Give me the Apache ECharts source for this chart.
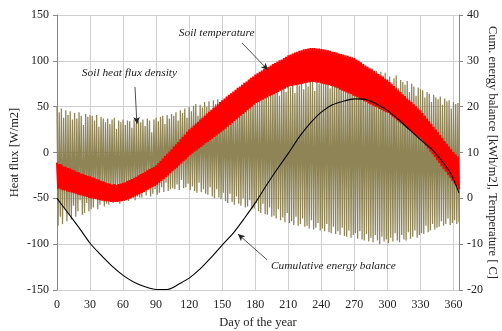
<!DOCTYPE html>
<html><head><meta charset="utf-8">
<script src="https://cdn.jsdelivr.net/npm/echarts@6/dist/echarts.min.js"></script>
<style>html,body{margin:0;padding:0;background:#fff}#c{width:502px;height:331px}</style>
</head><body><div id="c"></div>
<script>
// Soil heat flux density [W/m2]: daily highs (days 0,2,4,...,364) and lows (days 1,3,...,365)
const fluxHigh = [50,44,48,38,46,41,45,36, 43,37,44,40,30,42,39,41, 40,35,41,28,39,37,33, 37,31,36,38,26,35,33,36,
 30,35,34,27,36,32,35, 33,36,29,37,35,22,36,38, 34,39,40,31,41,37,42, 40,44,35,46,43,48,38,50,
 45,51,53,40,52,49,55, 50,56,44,57,53,58,47,57, 55,60,49,61,57,52,62, 58,63,65,54,66,60,67,64,
 69,57,70,66,72,61,71, 68,73,74,62,72,75,66,74, 71,77,65,76,73,78,69, 77,72,79,80,67,78,75,80,
 76,82,83,70,84,79,85, 81,86,74,87,84,88,78,87, 85,89,90,77,88,91,84, 92,86,89,75,88,84,87,80,
 83,76,81,84,70,79,77, 74,78,66,75,72,62,71,69, 68,60,66,64,55,63,60, 58,61,52,59,56,57,48,55,53,54];
const fluxLow = [-80,-70,-78,-62,-75,-68,-73,-58, -70,-64,-52,-68,-66,-55,-64,-62, -60,-50,-62,-57,-45,-59,-56,
 -57,-48,-55,-52,-42,-56,-50,-53, -46,-53,-50,-40,-52,-48,-49, -49,-43,-47,-36,-48,-45,-40,-46,
 -44,-38,-43,-33,-42,-40,-39, -40,-35,-41,-30,-39,-38,-34,-41, -37,-42,-44,-33,-43,-40,-45,
 -46,-38,-48,-50,-40,-49,-51,-44, -53,-55,-45,-54,-57,-48,-56, -58,-50,-60,-59,-52,-62,-61,-55,
 -64,-66,-56,-67,-68,-60,-70, -69,-72,-62,-74,-71,-76,-66,-77, -75,-79,-70,-80,-78,-72,-81,
 -80,-83,-74,-84,-82,-77,-85,-83, -86,-78,-87,-88,-81,-89,-86, -90,-82,-91,-92,-85,-93,-90,-88,
 -94,-86,-95,-96,-89,-97,-93, -98,-90,-96,-100,-92,-97,-95,-99, -93,-97,-88,-96,-98,-90,-95,
 -96,-87,-94,-92,-85,-93,-90,-88, -89,-80,-87,-85,-78,-84,-82, -81,-75,-80,-78,-72,-79,-77,-74,-78,-76];
// Soil temperature [C]: daily highs (days 0,2,...,364) and lows (days 1,3,...,365)
const tempHigh = [7.8,7.5,7.4,7.0,6.9,6.6,6.5,6.2,6.1,5.8,5.7,5.4,5.3,5.1,4.9,4.8,
 4.6,4.5,4.2,4.1,3.8,3.7,3.5,3.3,3.2,3.0,
 3.1,2.9,3.1,3.2,3.4,3.5,3.8,4.0,4.2,4.5,4.7,5.0,5.3,5.5,5.8,6.1,6.4,6.6,6.9,7.2,
 7.7,8.2,8.7,9.2,9.7,10.2,10.7,11.3,11.8,12.3,12.9,13.4,13.9,14.5,15.0,
 15.4,15.9,16.3,16.7,17.2,17.6,18.0,18.5,18.9,19.3,19.7,20.1,20.5,21.0,21.4,
 21.8,22.2,22.6,22.9,23.3,23.7,24.1,24.4,24.8,25.2,25.5,25.9,26.3,26.6,27.0,
 27.3,27.6,27.9,28.2,28.5,28.7,29.0,29.3,29.5,29.8,30.1,30.3,30.6,30.9,31.2,
 31.4,31.6,31.8,32.0,32.2,32.3,32.5,32.6,32.7,32.8,
 32.8,32.8,32.7,32.7,32.6,32.5,32.4,32.3,32.2,32.0,
 31.9,31.8,31.6,31.5,31.4,31.2,31.1,30.9,30.8,30.6,
 30.3,30.0,29.7,29.3,29.0,28.7,28.4,28.1,27.8,27.4,27.1,26.8,26.5,26.1,25.8,
 25.4,24.9,24.5,24.0,23.6,23.2,22.7,22.3,21.8,21.4,21.0,20.5,20.1,19.6,19.2,
 18.6,18.0,17.4,16.8,16.2,15.6,15.0,14.4,13.8,13.2,12.5,11.9,11.3,10.7,10.1,9.6,9.1];
const tempLow = [2.1,2.0,1.8,1.7,1.5,1.4,1.3,1.1,1.0,0.8,0.7,0.6,0.4,0.3,0.1,0.0,
 -0.1,-0.2,-0.3,-0.4,-0.5,-0.6,-0.6,-0.7,-0.8,-0.8,
 -0.8,-0.8,-0.7,-0.6,-0.5,-0.4,-0.2,0.0,0.2,0.4,0.7,0.9,1.2,1.4,1.7,1.9,2.2,2.5,2.7,3.0,
 3.4,3.8,4.2,4.6,5.0,5.5,5.9,6.3,6.7,7.2,7.6,8.1,8.5,9.0,9.4,
 9.8,10.2,10.5,10.9,11.2,11.6,12.0,12.3,12.7,13.0,13.4,13.7,14.1,14.4,14.8,
 15.2,15.6,16.0,16.4,16.8,17.2,17.6,18.0,18.4,18.8,19.2,19.6,20.0,20.4,20.8,
 21.0,21.3,21.5,21.8,22.0,22.3,22.5,22.7,23.0,23.2,23.5,23.7,23.9,24.2,24.4,
 24.5,24.6,24.7,24.8,24.9,25.0,25.1,25.2,25.3,25.4,
 25.4,25.3,25.2,25.1,25.0,24.9,24.8,24.7,24.5,24.4,
 24.2,24.0,23.7,23.5,23.3,23.1,22.9,22.7,22.4,22.2,
 22.0,21.7,21.5,21.2,21.0,20.7,20.5,20.2,20.0,19.8,19.5,19.3,19.0,18.8,18.6,
 18.2,17.8,17.4,17.0,16.6,16.3,15.9,15.5,15.1,14.7,14.3,13.9,13.6,13.2,12.8,
 12.2,11.5,10.9,10.2,9.6,9.0,8.3,7.7,7.0,6.4,5.8,5.1,4.5,3.8,3.2,2.6,2.0];
// Cumulative energy balance [kWh/m2]
const cumDays = [0,10,20,30,40,50,60,70,80,90,100,105,110,120,130,140,150,160,170,180,190,200,210,220,230,240,250,260,270,280,290,300,310,320,330,340,350,358,365];
const cumVals = [0,-3.2,-6.4,-9.8,-12.4,-14.8,-16.8,-18.3,-19.3,-19.9,-19.9,-19.5,-18.8,-17.4,-15.4,-12.9,-10.2,-7.6,-4.4,-1.0,2.8,6.4,9.8,13.4,16.4,18.8,20.4,21.2,21.7,21.6,20.6,19.2,17.2,15.0,12.8,10.8,8.0,5.2,1.2];

const STEP = 2;
const fluxData = [], tempData = [];
fluxHigh.forEach((v,i)=>{ fluxData.push([i*STEP, v]); fluxData.push([i*STEP+1, fluxLow[i]]); });
tempHigh.forEach((v,i)=>{ tempData.push([i*STEP, v]); tempData.push([i*STEP+1, tempLow[i]]); });
const cumData = cumDays.map((d,i)=>[d, cumVals[i]]);

const FONT = 'Liberation Serif';
const txt = {fontFamily: FONT, color: '#222', fontSize: 12};
const annot = {fontFamily: FONT, fontStyle: 'italic', fontSize: 11.4, color: '#222'};
function note(coord, text) {
  return {coord: coord, symbol: 'circle', symbolSize: 0,
    label: {show: true, position: 'inside', formatter: text, ...annot}};
}
const arrowStyle = {color: '#222', width: 0.8, type: 'solid'};

const chart = echarts.init(document.getElementById('c'), null, {renderer: 'canvas'});
chart.setOption({
  animation: false,
  grid: {left: 57, right: 43, top: 15, bottom: 41, containLabel: false, outerBoundsMode: 'none'},
  xAxis: {type: 'value', min: 0, max: 365, interval: 30,
    name: 'Day of the year', nameLocation: 'middle', nameGap: 26, nameTextStyle: {...txt, fontSize: 12.5},
    axisLine: {show: true, lineStyle: {color: '#888'}}, axisTick: {show: false},
    axisLabel: {...txt, margin: 9, formatter: v => (v % 30 === 0 ? String(v) : '')},
    splitLine: {show: true, lineStyle: {color: '#cfcfcf', width: 1}}},
  yAxis: [
    {type: 'value', min: -150, max: 150, interval: 50, position: 'left',
     name: 'Heat flux [W/m2]', nameLocation: 'middle', nameGap: 36, nameMoveOverlap: false,
     nameTextStyle: {...txt, fontSize: 12.5},
     axisLine: {show: true, lineStyle: {color: '#888'}}, axisTick: {show: true, inside: false, length: 4, lineStyle: {color: '#888'}},
     axisLabel: {...txt, margin: 8},
     splitLine: {show: true, lineStyle: {color: '#cfcfcf', width: 1}}},
    {type: 'value', min: -20, max: 40, interval: 10, position: 'right',
     name: 'Cum. energy balance [kWh/m2], Temperature [ C]', nameLocation: 'middle', nameGap: 27, nameRotate: -90,
     nameMoveOverlap: false, nameTextStyle: {...txt, fontSize: 12.5},
     axisLine: {show: true, lineStyle: {color: '#888'}}, axisTick: {show: true, length: 4, lineStyle: {color: '#888'}},
     axisLabel: {...txt, margin: 8}, splitLine: {show: false}}
  ],
  series: [
    {name: 'Soil heat flux density', type: 'line', data: fluxData, yAxisIndex: 0, showSymbol: false, symbol: 'none',
     lineStyle: {color: '#8e8456', width: 1.25}, z: 2,
     markLine: {silent: true, symbol: ['none', 'arrow'], symbolSize: [5, 7], label: {show: false},
       lineStyle: arrowStyle, animation: false,
       data: [
         [{coord: [70.8, 71.5]}, {coord: [72.6, 31]}],
         [{coord: [168, 119.5]}, {coord: [191.6, 90]}],
         [{coord: [190.7, -117]}, {coord: [164.3, -89]}]
       ]},
     markPoint: {silent: true, data: [
       note([65.8, 86.7], 'Soil heat flux density'),
       note([145, 130], 'Soil temperature'),
       note([251, -123.5], 'Cumulative energy balance')
     ]}},
    {name: 'Soil temperature', type: 'line', data: tempData, yAxisIndex: 1, showSymbol: false, symbol: 'none',
     lineStyle: {color: '#ff0000', width: 2}, z: 3},
    {name: 'Cumulative energy balance', type: 'line', data: cumData, yAxisIndex: 1, showSymbol: false, symbol: 'none',
     smooth: 0.25, lineStyle: {color: '#000', width: 1.1}, z: 4}
  ]
});
</script></body></html>
